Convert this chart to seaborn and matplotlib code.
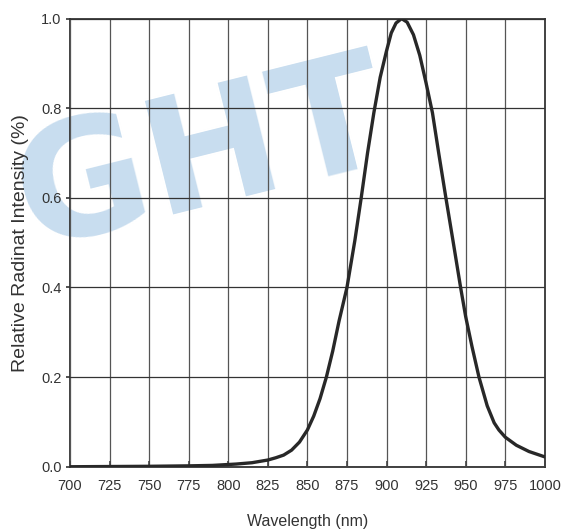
import matplotlib
matplotlib.use("Agg")
import matplotlib.pyplot as plt
import seaborn as sns
import pandas as pd

# Spectral curve
wavelength_nm = [700, 725, 750, 775, 790, 800, 805, 815, 825, 830, 835, 840,
                 845, 850, 854, 858, 862, 866, 870, 875, 880, 884, 888, 892,
                 896, 900, 903, 906, 909.5, 913, 917, 921, 925, 929, 933,
                 937.5, 942, 946.8, 950, 954, 958.4, 963.6, 968, 971, 975,
                 982, 990, 1000]
rel_intensity = [0.000, 0.0005, 0.001, 0.002, 0.003, 0.005, 0.006, 0.009,
                 0.015, 0.020, 0.026, 0.037, 0.055, 0.082, 0.113, 0.152,
                 0.200, 0.258, 0.325, 0.400, 0.505, 0.600, 0.700, 0.790,
                 0.869, 0.928, 0.968, 0.990, 1.000, 0.992, 0.964, 0.918,
                 0.856, 0.790, 0.699, 0.600, 0.504, 0.400, 0.335, 0.268,
                 0.200, 0.136, 0.098, 0.082, 0.066, 0.048, 0.034, 0.022]

x_ticks = [700, 725, 750, 775, 800, 825, 850, 875, 900, 925, 950, 975, 1000]
y_ticks = [0.0, 0.2, 0.4, 0.6, 0.8, 1.0]

df = pd.DataFrame({"Wavelength": wavelength_nm, "Intensity": rel_intensity})

sns.set_theme(style="white")
plt.rcParams["font.family"] = ["Liberation Sans", "DejaVu Sans"]

fig = plt.figure(figsize=(5.64, 5.31), dpi=100)
ax = fig.add_axes([0.124, 0.121, 0.842, 0.844])

# watermark logo behind the grid
ax.text(0.36, 0.70, "GHT", transform=fig.transFigure, fontsize=116,
        fontweight="bold", color="#c8ddef", rotation=14, ha="center",
        va="center", rotation_mode="anchor", clip_on=False, zorder=0.5,
        family=["DejaVu Sans"])

sns.lineplot(data=df, x="Wavelength", y="Intensity", ax=ax, color="#282828",
             linewidth=2.4, zorder=3, solid_joinstyle="round")

ax.set_xlim(700, 1000)
ax.set_ylim(0, 1.0)
ax.set_xticks(x_ticks)
ax.set_yticks(y_ticks)
ax.set_yticklabels([f"{v:.1f}" for v in y_ticks])
ax.set_axisbelow(False)
ax.yaxis.grid(True, color="#333333", linewidth=0.9)
ax.xaxis.grid(True, color="#555555", linewidth=0.9)

for s in ax.spines.values():
    s.set_color("#333333")
    s.set_linewidth(1.3)

ax.tick_params(axis="x", direction="in", length=4, width=1.2, color="#444444",
               labelsize=10.5, labelcolor="#333333", pad=9, bottom=True)
ax.tick_params(axis="y", direction="out", length=3, width=1.2, color="#333333",
               labelsize=10.5, labelcolor="#333333", pad=3, left=True)

ax.set_xlabel("Wavelength (nm)", fontsize=11.5, color="#333333", labelpad=15)
ax.set_ylabel("Relative Radinat Intensity (%)", fontsize=14, color="#333333",
              labelpad=9)

fig.savefig("out.png", dpi=100)
